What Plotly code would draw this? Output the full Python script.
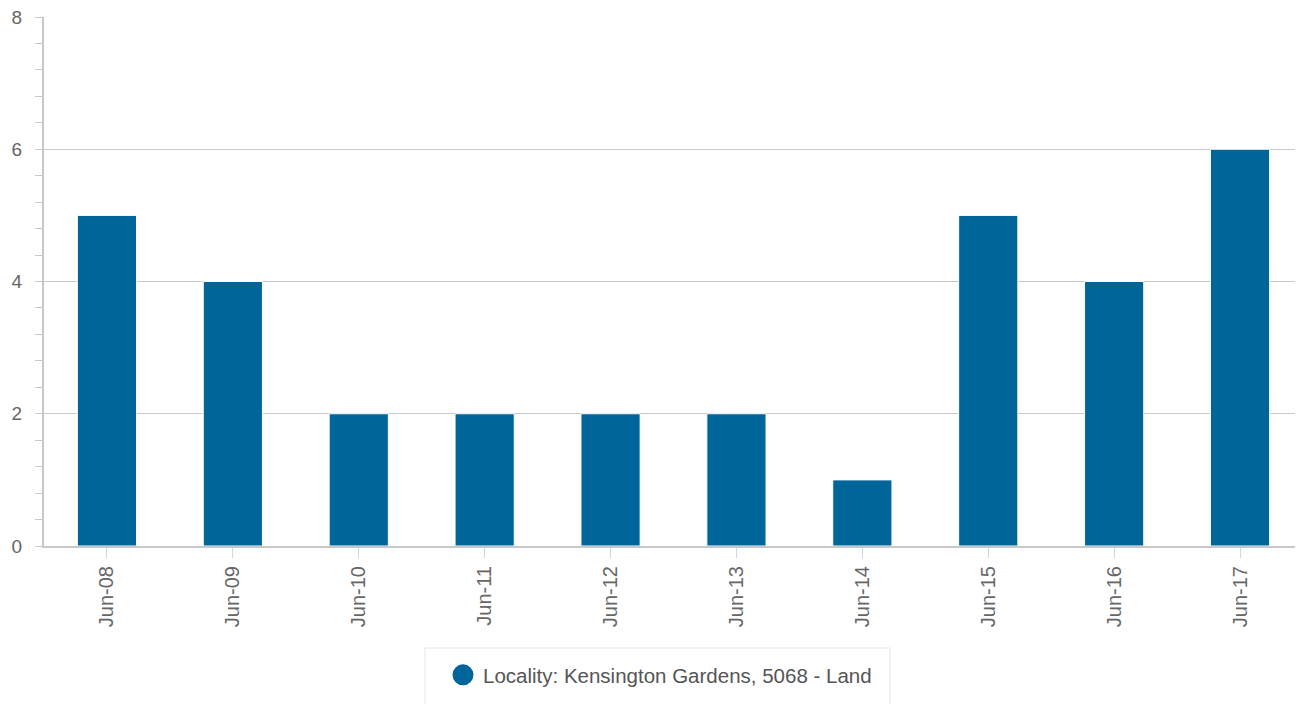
import plotly.graph_objects as go

categories = ["Jun-08", "Jun-09", "Jun-10", "Jun-11", "Jun-12", "Jun-13", "Jun-14", "Jun-15", "Jun-16", "Jun-17"]
values = [5, 4, 2, 2, 2, 2, 1, 5, 4, 6]
series_name = "Locality: Kensington Gardens, 5068 - Land"
bar_color = "#006699"

fig = go.Figure()
fig.add_trace(go.Bar(
    x=categories, y=values, name=series_name,
    marker=dict(color=bar_color, line=dict(color="#ffffff", width=1)),
    width=0.47, showlegend=False,
))
fig.add_trace(go.Scatter(
    x=[None], y=[None], mode="markers", name=series_name,
    marker=dict(color=bar_color, size=16, symbol="circle",
                line=dict(color=bar_color, width=5)),
    showlegend=True,
))

# page body has an 8px offset; plot area spans x 44..1303, y 17..546 on screen
PX0, PW, PY1, PH = 44, 1259, 546, 529

fig.add_shape(type="rect", xref="paper", yref="paper",
              x0=(425 - PX0) / PW, x1=(890 - PX0) / PW,
              y0=-(648 - PY1) / PH, y1=-0.40,
              line=dict(color="#e6e6e6", width=1), fillcolor="rgba(0,0,0,0)", layer="below")

fig.update_layout(
    width=1295, height=696,
    margin=dict(l=36, r=0, t=9, b=158),
    paper_bgcolor="white", plot_bgcolor="white",
    font=dict(family="Liberation Sans, Arial, sans-serif", color="#666666"),
    legend=dict(
        orientation="h", x=(443 - PX0) / PW, xanchor="left",
        y=-(655 - PY1) / PH, yanchor="top",
        borderwidth=0, bgcolor="rgba(0,0,0,0)",
        font=dict(size=20.5, color="#555555"),
        itemsizing="trace",
    ),
    xaxis=dict(
        type="category", showgrid=False, automargin=False,
        showline=True, linecolor="#c8c8c8", linewidth=2,
        ticks="outside", ticklen=10, tickcolor="#ccd6eb", tickwidth=1,
        tickangle=-90, tickfont=dict(size=20, color="#666666"),
    ),
    yaxis=dict(
        range=[0, 8], tickvals=[0, 2, 4, 6, 8], automargin=False,
        showgrid=True, gridcolor="#c8c8c8", gridwidth=1,
        showline=True, linecolor="#c8c8c8", linewidth=2,
        ticks="outside", ticklen=7, tickcolor="#c8c8c8", tickwidth=1,
        minor=dict(dtick=0.4, ticks="outside", ticklen=7, tickcolor="#c8c8c8", showgrid=False),
        tickfont=dict(size=19, color="#666666"),
        zeroline=False, ticklabelstandoff=9, ticklabeloverflow="allow",
    ),
)

fig.write_html("out.html")
